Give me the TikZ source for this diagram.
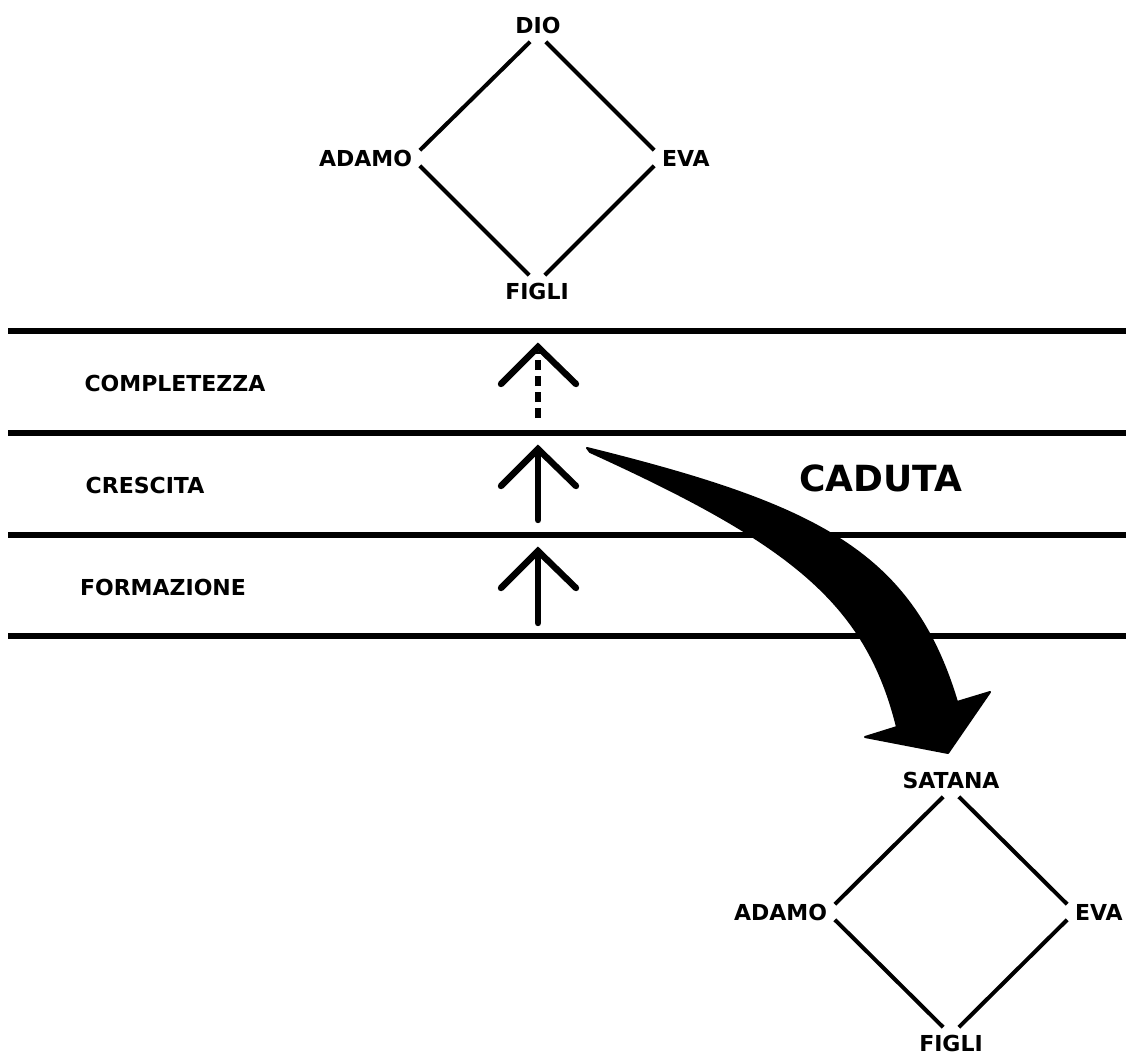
\documentclass[tikz,border=0pt]{standalone}
\usepackage{fontspec}
\setmainfont{DejaVu Sans}
\usetikzlibrary{positioning}

\begin{document}
\begin{tikzpicture}[x=0.75pt, y=-0.75pt,
    nome/.style={inner sep=0pt, outer sep=0pt, font=\fontsize{16.5}{19}\bfseries},
    legame/.style={line width=3pt, shorten <=8.3pt, shorten >=8.3pt},
    fascia/.style={line width=4.5pt},
    salita/.style={line width=4.8pt, line cap=round, line join=miter}]
    \useasboundingbox (0,0) rectangle (1126,1055);

    % famiglia in alto
    \begin{scope}[every node/.style={nome}]
      \node [anchor=south] (dio) at (538,34) {DIO};
      \node [anchor=east] (adamo) at (412,158) {ADAMO};
      \node [anchor=west] (eva) at (662,158) {EVA};
      \node [anchor=north] (figli) at (537,283) {FIGLI};
    \end{scope}
    \begin{scope}[legame]
      \draw (dio.south) -- (adamo.east); \draw (dio.south) -- (eva.west);
      \draw (adamo.east) -- (figli.north); \draw (eva.west) -- (figli.north);
    \end{scope}

    % le tre fasce
    \foreach \y in {331,433,535,636} \draw [fascia] (8,\y) -- (1126,\y);
    \begin{scope}[every node/.style={nome}]
      \node (completezza) at (175,383) {COMPLETEZZA};
      \node (crescita) at (145,485) {CRESCITA};
      \node (formazione) at (163,587) {FORMAZIONE};
      \node [font=\fontsize{27}{32}\bfseries] (caduta) at (881,478) {CADUTA};
    \end{scope}

    % frecce di crescita
    \begin{scope}[salita]
      \draw [line cap=butt, dash pattern=on 7.5pt off 4.5pt] (538,418) -- (538,352);
      \draw (501,384) -- (538,347) -- (576,384);
      \draw (538,520) -- (538,451); \draw (501,486) -- (538,449) -- (576,486);
      \draw (538,623) -- (538,554); \draw (501,588) -- (538,551) -- (576,588);
    \end{scope}

    % la caduta
    \filldraw [line width=1.5pt, line join=round, line cap=round]
      (587,448) .. controls (817,505) and (912,552) .. (957,702)
      -- (990,692) -- (948,753) -- (865,737) -- (897,727)
      .. controls (866,602) and (790,543) .. (590,452) -- cycle;

    % famiglia in basso
    \begin{scope}[every node/.style={nome}]
      \node [anchor=south] (satana) at (951,789) {SATANA};
      \node [anchor=east] (adamo2) at (827,912) {ADAMO};
      \node [anchor=west] (eva2) at (1075,912) {EVA};
      \node [anchor=north] (figli2) at (951,1035) {FIGLI};
    \end{scope}
    \begin{scope}[legame]
      \draw (satana.south) -- (adamo2.east); \draw (satana.south) -- (eva2.west);
      \draw (adamo2.east) -- (figli2.north); \draw (eva2.west) -- (figli2.north);
    \end{scope}

  \end{tikzpicture}
\end{document}
